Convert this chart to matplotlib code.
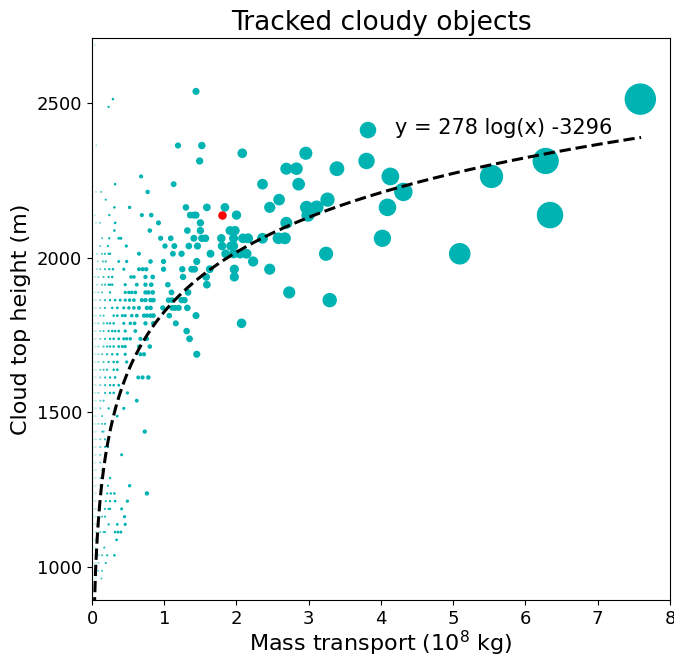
import numpy as np
import matplotlib
matplotlib.use("Agg")
import matplotlib.pyplot as plt

# cloud top height rows (m) and the mass transport (1e8 kg) of each object in that row
row_heights = [
    2687.5, 2537.5, 2512.5, 2487.5, 2412.5, 2362.5, 2337.5, 2312.5, 2287.5, 2262.5,
    2237.5, 2212.5, 2187.5, 2162.5, 2137.5, 2112.5, 2087.5, 2062.5, 2037.5, 2012.5,
    1987.5, 1962.5, 1937.5, 1912.5, 1887.5, 1862.5, 1837.5, 1812.5, 1787.5, 1762.5,
    1737.5, 1712.5, 1687.5, 1662.5, 1637.5, 1612.5, 1587.5, 1562.5, 1537.5, 1512.5,
    1487.5, 1462.5, 1437.5, 1412.5, 1387.5, 1362.5, 1337.5, 1312.5, 1287.5, 1262.5,
    1237.5, 1212.5, 1187.5, 1162.5, 1137.5, 1112.5, 1087.5, 1062.5, 1037.5, 1012.5,
    987.5, 962.5, 937.5, 912.5,
]
row_masses = [
    [0.04],
    [1.44],
    [0.29, 7.59],
    [0.23],
    [3.82],
    [0.06, 1.19, 1.52],
    [2.08, 2.96],
    [1.49, 3.80, 6.28],
    [2.69, 2.83, 3.39],
    [0.68, 4.13, 5.53],
    [0.32, 1.13, 2.36, 2.86],
    [0.055, 0.125, 0.77, 4.31],
    [0.19, 2.59, 3.26],
    [0.31, 0.52, 1.30, 1.59, 1.84, 2.46, 2.97, 3.11, 4.09],
    [0.04, 0.24, 0.69, 0.82, 1.36, 1.41, 1.44, 2.00, 2.99, 6.34],
    [0.055, 0.11, 0.32, 0.92, 1.50, 2.69],
    [0.31, 0.80, 1.32, 1.50, 1.91, 1.98],
    [0.14, 0.24, 0.37, 0.40, 0.95, 1.09, 1.41, 1.52, 1.57, 1.79, 1.96, 2.09, 2.16,
     2.36, 2.58, 2.67, 4.02],
    [0.115, 0.22, 0.475, 1.01, 1.14, 1.34, 1.46, 1.80, 1.92, 1.96],
    [0.02, 0.07, 0.14, 0.18, 0.23, 0.25, 0.65, 1.12, 1.24, 1.64, 1.85, 1.96, 2.05,
     2.14, 3.24, 5.09],
    [0.02, 0.08, 0.15, 0.19, 0.37, 0.48, 0.81, 0.99, 1.45, 2.23],
    [0.02, 0.07, 0.115, 0.18, 0.24, 0.29, 0.44, 0.65, 0.70, 0.75, 0.99, 1.25, 1.38,
     1.42, 1.63, 1.97, 2.46],
    [0.02, 0.05, 0.09, 0.16, 0.23, 0.28, 0.54, 0.58, 0.74, 0.84, 1.26, 1.58, 1.97],
    [0.02, 0.07, 0.14, 0.18, 0.23, 0.25, 0.28, 0.46, 0.62, 0.74, 0.82, 1.05, 1.59],
    [0.02, 0.05, 0.09, 0.14, 0.25, 0.46, 0.51, 0.55, 0.60, 0.74, 0.78, 0.84, 1.10,
     1.33, 2.73],
    [0.02, 0.05, 0.115, 0.18, 0.25, 0.32, 0.39, 0.46, 0.52, 0.58, 0.69, 0.74, 0.81,
     0.85, 1.06, 1.11, 1.24, 1.28, 3.29],
    [0.02, 0.05, 0.115, 0.18, 0.28, 0.35, 0.44, 0.51, 0.58, 0.65, 0.76, 0.81, 0.98,
     1.11, 1.15, 1.20, 1.32],
    [0.02, 0.05, 0.115, 0.16, 0.30, 0.35, 0.42, 0.46, 0.55, 0.62, 0.72, 0.76, 0.81,
     0.85, 1.07, 1.44],
    [0.02, 0.05, 0.09, 0.16, 0.21, 0.25, 0.30, 0.44, 0.53, 0.59, 0.74, 0.85, 1.16, 2.07],
    [0.02, 0.05, 0.115, 0.16, 0.23, 0.28, 0.32, 0.37, 0.46, 0.60, 1.31],
    [0.02, 0.05, 0.115, 0.18, 0.25, 0.30, 0.37, 0.44, 0.48, 0.53, 0.67, 0.76, 1.35],
    [0.02, 0.05, 0.09, 0.16, 0.21, 0.25, 0.30, 0.37, 0.42, 0.46, 0.65, 0.80],
    [0.02, 0.05, 0.09, 0.14, 0.21, 0.28, 0.35, 0.46, 0.67, 0.72, 1.45],
    [0.02, 0.05, 0.09, 0.16, 0.23, 0.30, 0.35, 0.48],
    [0.02, 0.05, 0.115, 0.16, 0.21, 0.30, 0.35],
    [0.02, 0.05, 0.115, 0.18, 0.25, 0.32, 0.64, 0.70, 0.78],
    [0.02, 0.05, 0.115, 0.18, 0.25, 0.30, 0.37],
    [0.02, 0.05, 0.09, 0.18, 0.25, 0.30, 0.49],
    [0.02, 0.05, 0.115, 0.16, 0.62],
    [0.02, 0.05, 0.115, 0.23, 0.32, 0.44],
    [0.02, 0.05, 0.14, 0.35],
    [0.02, 0.05, 0.09, 0.14, 0.18],
    [0.02, 0.05, 0.14, 0.16, 0.73],
    [0.02, 0.05, 0.115, 0.18],
    [0.02, 0.05, 0.115, 0.18, 0.22],
    [0.02, 0.05, 0.115, 0.18, 0.41],
    [0.02, 0.05, 0.115],
    [0.02, 0.05, 0.14],
    [0.02, 0.05, 0.115, 0.15, 0.25],
    [0.02, 0.05, 0.115, 0.22, 0.52],
    [0.02, 0.05, 0.21, 0.26, 0.31, 0.76],
    [0.02, 0.05, 0.19, 0.25, 0.32, 0.49],
    [0.02, 0.05, 0.115, 0.18, 0.23, 0.25, 0.41],
    [0.02, 0.05, 0.14, 0.18, 0.45],
    [0.02, 0.05, 0.09, 0.23, 0.35, 0.46],
    [0.02, 0.05, 0.115, 0.16, 0.18, 0.32, 0.36, 0.40],
    [0.02, 0.05, 0.07, 0.34],
    [0.02, 0.05, 0.17],
    [0.02, 0.05, 0.09, 0.14, 0.21, 0.31],
    [0.02, 0.05, 0.09, 0.19],
    [0.02, 0.05, 0.09, 0.14],
    [0.02, 0.05, 0.13],
    [0.02, 0.04],
    [0.02],
]

# highlighted object
red_mass = [1.80]
red_height = [2137.5]

# log fit shown on the chart: y = a*ln(m) + b, m in kg
fit_a = 278
fit_b = -3296
fit_range = [0.01, 7.6]

mass = np.array([m for ms in row_masses for m in ms])
height = np.array([h for h, ms in zip(row_heights, row_masses) for _ in ms])

marker_scale = 2.85  # marker diameter (pt) per 1e8 kg

fig = plt.figure(figsize=(6.74, 6.56), dpi=100)
ax = fig.add_axes([0.1365, 0.0854, 0.8575, 0.8566])

ax.scatter(mass, height, s=(marker_scale * mass) ** 2, c="#00b3b3", zorder=2)
ax.scatter(red_mass, red_height, s=(marker_scale * np.array(red_mass)) ** 2, c="red", zorder=3)

xf = np.linspace(fit_range[0], fit_range[1], 400)
yf = fit_a * np.log(xf * 1e8) + fit_b
ax.plot(xf, yf, "--", color="black", lw=2.2, zorder=4)

ax.text(4.2, 2400, "y = 278 log(x) -3296", fontsize=15)

ax.set_xlim(0, 8)
ax.set_ylim(893, 2710)
ax.set_yticks([1000, 1500, 2000, 2500])
ax.tick_params(labelsize=13)
ax.set_xlabel("Mass transport ($10^8$ kg)", fontsize=16, labelpad=1)
ax.set_ylabel("Cloud top height (m)", fontsize=16)
ax.set_title("Tracked cloudy objects", fontsize=19)

fig.savefig("out.png", dpi=100)
